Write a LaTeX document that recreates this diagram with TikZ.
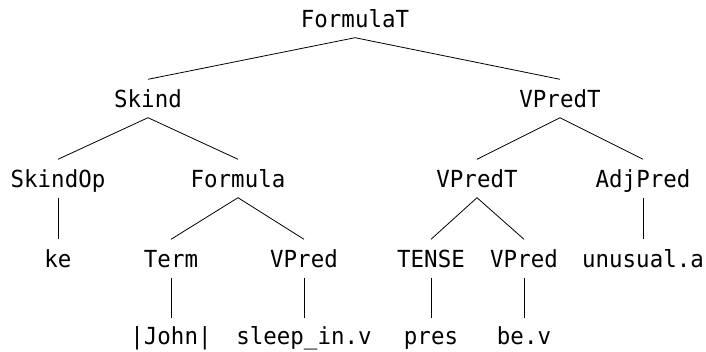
\documentclass[tikz,border=0pt]{standalone}
\usepackage{fontspec}
\setmonofont[FakeStretch=0.955]{DejaVu Sans Mono}
\begin{document}
\begin{tikzpicture}[x=1pt,y=-1pt,
  lbl/.style={font=\ttfamily\fontsize{23.5}{27}\selectfont, anchor=base,
    text height=17pt, text depth=0pt, inner xsep=0pt, inner ysep=10.5pt},
  edge/.style={line width=0.8pt, black}]
\useasboundingbox (0,0) rectangle (706,351);
% row 1
\node[lbl] (ft) at (355,27) {FormulaT};
% row 2
\node[lbl] (sk) at (148,107) {Skind};
\node[lbl] (vpt) at (560,107) {VPredT};
% row 3
\node[lbl] (skop) at (58,187) {SkindOp};
\node[lbl] (fo) at (238,187) {Formula};
\node[lbl] (vpt2) at (477,187) {VPredT};
\node[lbl] (adj) at (643,187) {AdjPred};
% row 4
\node[lbl] (ke) at (58,267) {ke};
\node[lbl] (term) at (171,267) {Term};
\node[lbl] (vp1) at (304,267) {VPred};
\node[lbl] (tense) at (431,267) {TENSE};
\node[lbl] (vp2) at (524,267) {VPred};
\node[lbl] (unu) at (643,267) {unusual.a};
% row 5
\node[lbl, inner ysep=8.5pt] (john) at (171,344) {|John|};
\node[lbl, inner ysep=8.5pt] (sleep) at (304,344) {sleep\_in.v};
\node[lbl, inner ysep=8.5pt] (pres) at (431,344) {pres};
\node[lbl, inner ysep=8.5pt] (be) at (524,344) {be.v};
% edges
\draw[edge] (sk.north) -- (ft.south) -- (vpt.north);
\draw[edge] (skop.north) -- (sk.south) -- (fo.north);
\draw[edge] (vpt2.north) -- (vpt.south) -- (adj.north);
\draw[edge] (skop.south) -- (ke.north);
\draw[edge] (term.north) -- (fo.south) -- (vp1.north);
\draw[edge] (tense.north) -- (vpt2.south) -- (vp2.north);
\draw[edge] (adj.south) -- (unu.north);
\draw[edge] (term.south) -- (john.north);
\draw[edge] (vp1.south) -- (sleep.north);
\draw[edge] (tense.south) -- (pres.north);
\draw[edge] (vp2.south) -- (be.north);
\end{tikzpicture}
\end{document}
